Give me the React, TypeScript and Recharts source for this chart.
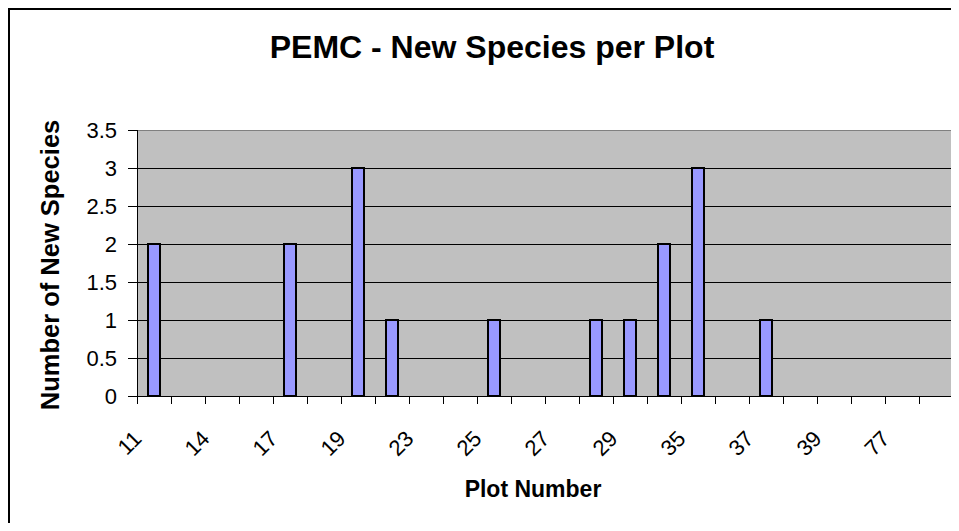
import { Bar, BarChart, CartesianGrid, XAxis, YAxis } from "recharts";

// Plot numbers (every other one gets a label, as in the original Excel chart)
const plots = [
  "11", "13", "14", "16", "17", "18", "19", "21", "23", "24", "25", "26",
  "27", "28", "29", "31", "35", "36", "37", "38", "39", "40", "77", "78",
];
const newSpecies = [2, 0, 0, 0, 2, 0, 3, 1, 0, 0, 1, 0, 0, 1, 1, 2, 3, 0, 1, 0, 0, 0, 0, 0];
const yTicks = [0, 0.5, 1, 1.5, 2, 2.5, 3, 3.5];

const data = plots.map((plot, i) => ({ plot, species: newSpecies[i] }));

const CHART_W = 949;
const CHART_H = 521;
const MARGIN = { top: 120, right: 6, bottom: 95, left: 0 };
const Y_AXIS_W = 127;
const X_AXIS_H = 40;
const PLOT_W = CHART_W - MARGIN.left - MARGIN.right - Y_AXIS_W;
const BAND = PLOT_W / plots.length;

const FONT = "'Liberation Sans', Arial, sans-serif";
const TICK_FONT = 22;

type TickProps = { x: number; y: number; index: number; payload: { value: string } };

function PlotTick({ x, y, index, payload }: TickProps) {
  const last = index === plots.length - 1;
  return (
    <g>
      <line x1={x - BAND / 2} x2={x - BAND / 2} y1={y} y2={y + 8} stroke="#000" />
      {last && <line x1={x + BAND / 2} x2={x + BAND / 2} y1={y} y2={y + 8} stroke="#000" />}
      {index % 2 === 0 && (
        <text
          x={x - 11}
          y={y + 44}
          transform={`rotate(-45, ${x - 11}, ${y + 44})`}
          textAnchor="end"
          fontSize={TICK_FONT}
          fill="#000"
          fontFamily={FONT}
          style={{ shapeRendering: "auto" }}
        >
          {payload.value}
        </text>
      )}
    </g>
  );
}

export default function App() {
  return (
    <div
      style={{
        width: 951,
        height: 523,
        boxSizing: "border-box",
        borderTop: "2px solid #000",
        borderLeft: "2px solid #000",
        marginBottom: -8,
        background: "#fff",
      }}
    >
      <BarChart
        width={CHART_W}
        height={CHART_H}
        data={data}
        margin={MARGIN}
        style={{ fontFamily: FONT, shapeRendering: "crispEdges" }}
      >
        <CartesianGrid vertical={false} stroke="#000" fill="#C0C0C0" />
        <CartesianGrid
          stroke="#808080"
          horizontalCoordinatesGenerator={({ offset }: any) => [offset.top]}
          verticalCoordinatesGenerator={({ offset }: any) => [offset.left + offset.width]}
        />
        <XAxis
          dataKey="plot"
          interval={0}
          height={X_AXIS_H}
          tickLine={false}
          tickSize={0}
          tickMargin={0}
          axisLine={{ stroke: "#000" }}
          tick={(props: any) => <PlotTick {...props} />}
        />
        <YAxis
          width={Y_AXIS_W}
          domain={[0, 3.5]}
          ticks={yTicks}
          interval={0}
          tickSize={9}
          tickMargin={11}
          tickLine={{ stroke: "#000" }}
          axisLine={{ stroke: "#000" }}
          tick={{ fill: "#000", fontSize: TICK_FONT, fontFamily: FONT }}
        />
        <Bar dataKey="species" barSize={12} fill="#9999FF" stroke="#000" strokeWidth={2} isAnimationActive={false} />
        <text x={482} y={48} textAnchor="middle" fontSize={32} fontWeight="bold" fontFamily={FONT} fill="#000">
          PEMC - New Species per Plot
        </text>
        <text
          x={40}
          y={255}
          transform="rotate(-90, 40, 255)"
          textAnchor="middle"
          dominantBaseline="central"
          fontSize={25.5}
          fontWeight="bold"
          fontFamily={FONT}
          fill="#000"
        >
          Number of New Species
        </text>
        <text x={523} y={487} textAnchor="middle" fontSize={23} fontWeight="bold" fontFamily={FONT} fill="#000">
          Plot Number
        </text>
      </BarChart>
    </div>
  );
}
